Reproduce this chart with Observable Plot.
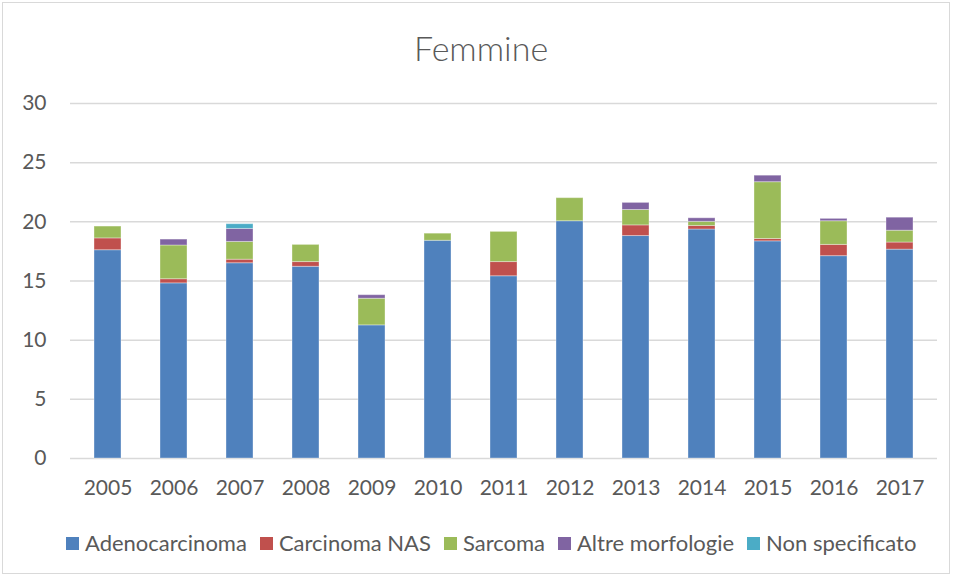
<!DOCTYPE html>
<html>
<head>
<meta charset="utf-8">
<script src="https://cdn.jsdelivr.net/npm/d3@7"></script>
<script src="https://cdn.jsdelivr.net/npm/@observablehq/plot@0.6"></script>
<style>
  html, body { margin: 0; padding: 0; background: #fff; }
  #frame { position: relative; width: 954px; height: 578px; overflow: hidden; font-family: Lato, "Open Sans", sans-serif; color: #595959; }
  #border { position: absolute; left: 2px; top: 2px; width: 948px; height: 572px; border: 1px solid #d9d9d9; box-sizing: border-box; }
  #title { position: absolute; left: 4px; width: 954px; top: 28px; text-align: center; font-size: 34px; line-height: 40px; font-weight: 300; }
  #chart { position: absolute; left: 0; top: 70px; }
  #legend { position: absolute; left: 66px; top: 530px; display: flex; align-items: center; font-size: 22px; line-height: 26px; white-space: nowrap; }
  .item { display: flex; align-items: center; margin-right: 13px; }
  .sw { width: 13px; height: 13px; margin-right: 6px; }
</style>
</head>
<body>
<div id="frame">
  <div id="border"></div>
  <div id="title">Femmine</div>
  <div id="chart"></div>
  <div id="legend"></div>
</div>
<script>
const years = ["2005","2006","2007","2008","2009","2010","2011","2012","2013","2014","2015","2016","2017"];
const series = ["Adenocarcinoma", "Carcinoma NAS", "Sarcoma", "Altre morfologie", "Non specificato"];
const colors = ["#4F81BD", "#C0504D", "#9BBB59", "#8064A2", "#4BACC6"];
const adenocarcinoma = [17.6, 14.8, 16.5, 16.2, 11.25, 18.4, 15.4, 20.05, 18.8, 19.35, 18.35, 17.1, 17.65];
const carcinomaNAS   = [1.0, 0.35, 0.3, 0.4, 0, 0, 1.2, 0, 0.9, 0.3, 0.2, 0.95, 0.6];
const sarcoma        = [1.0, 2.85, 1.5, 1.45, 2.25, 0.6, 2.55, 1.95, 1.3, 0.35, 4.8, 2.0, 1.0];
const altre          = [0, 0.5, 1.1, 0, 0.3, 0, 0, 0, 0.6, 0.3, 0.55, 0.2, 1.1];
const nonSpecificato = [0, 0, 0.4, 0, 0, 0, 0, 0, 0, 0, 0, 0, 0];
const yTicks = [0, 5, 10, 15, 20, 25, 30];

const valuesBySeries = [adenocarcinoma, carcinomaNAS, sarcoma, altre, nonSpecificato];
const data = [];
years.forEach((yr, i) => {
  series.forEach((s, j) => {
    const v = valuesBySeries[j][i];
    if (v > 0) data.push({year: yr, series: s, value: v});
  });
});

const chart = Plot.plot({
  width: 954,
  height: 450,
  marginTop: 33,
  marginBottom: 62,
  marginLeft: 70,
  marginRight: 17,
  style: {fontFamily: "Lato, 'Open Sans', sans-serif", fontSize: "21px", color: "#595959", background: "transparent"},
  x: {domain: years, paddingInner: 0.595, paddingOuter: 0.2975, label: null},
  y: {domain: [0, 30], label: null},
  color: {domain: series, range: colors},
  marks: [
    Plot.ruleY(yTicks, {stroke: "#d9d9d9", strokeWidth: 1.5}),
    Plot.barY(data, {x: "year", y: "value", fill: "series", stroke: "white", strokeOpacity: 0.35, strokeWidth: 1}),
    Plot.axisX({tickSize: 0, tickPadding: 22, fontSize: 21, fill: "#595959"}),
    Plot.axisY({ticks: yTicks, tickSize: 0, tickPadding: 24, fontSize: 21, fill: "#595959"})
  ]
});
document.getElementById("chart").appendChild(chart);

const legend = document.getElementById("legend");
series.forEach((s, j) => {
  const it = document.createElement("div");
  it.className = "item";
  const sw = document.createElement("div");
  sw.className = "sw";
  sw.style.background = colors[j];
  const t = document.createElement("span");
  t.textContent = s;
  it.appendChild(sw); it.appendChild(t);
  legend.appendChild(it);
});
</script>
</body>
</html>
